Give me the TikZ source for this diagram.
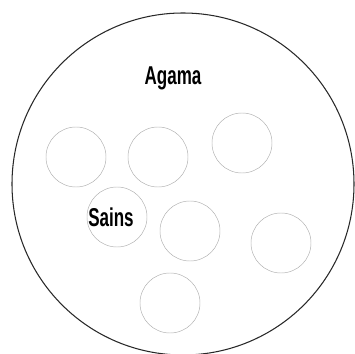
\documentclass[tikz,border=0pt]{standalone}
\usepackage{fontspec}
\setsansfont{Liberation Sans}
\usepackage{tikz}
\usetikzlibrary{positioning}
\usepackage{pdfrender}
\definecolor{ringgray}{RGB}{175,175,175}
\definecolor{edgeblack}{RGB}{40,40,40}

\newcommand{\hollow}[1]{\scalebox{0.66}[1]{\textpdfrender{TextRenderingMode=FillStroke,
  LineWidth=1.6pt, FillColor=white, StrokeColor=black}{#1}}}

\begin{document}
\begin{tikzpicture}[
  outer/.style={circle, draw=edgeblack, line width=0.9pt,
                minimum size=10.26cm, inner sep=0pt},
  blob/.style={circle, draw=ringgray, line width=0.4pt,
               minimum size=1.8cm, inner sep=0pt},
  lbl/.style={anchor=base, inner sep=0pt,
              font=\sffamily\bfseries\fontsize{22}{22}\selectfont},
]
\useasboundingbox (0,0) rectangle (10.65,10.59);

% Outer set
\node[outer] (world) at (5.49, 5.07) {};
\node[lbl] (agama) at (5.19, 8.04) {\hollow{Agama}};

% Inner sets
\node[blob] (c1) at (2.28, 5.88) {};
\node[blob] (c2) at (4.74, 5.88) {};
\node[blob] (c3) at (7.26, 6.30) {};
\node[blob] (c4) at (3.51, 4.08) {};
\node[blob] (c5) at (5.70, 3.66) {};
\node[blob] (c6) at (8.43, 3.30) {};
\node[blob] (c7) at (5.10, 1.50) {};

\node[lbl] (sains) at (3.33, 3.78) {\hollow{Sains}};
\end{tikzpicture}
\end{document}
